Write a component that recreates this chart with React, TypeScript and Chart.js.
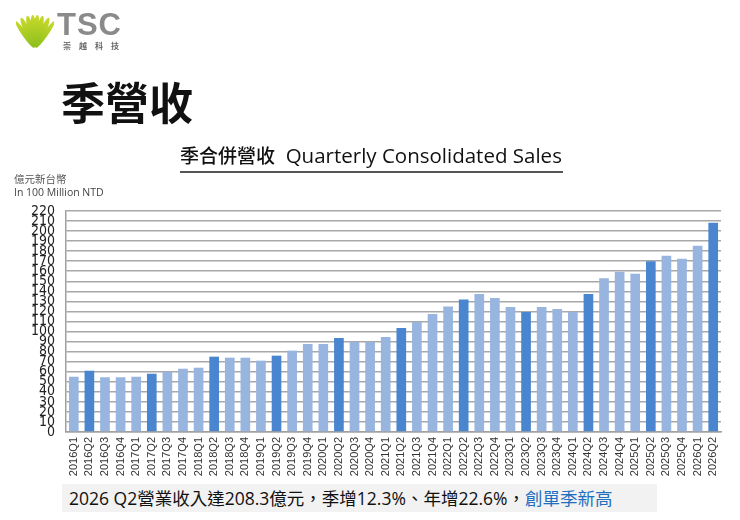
import React, { useEffect, useRef } from "react";
import { Chart, registerables } from "chart.js";

Chart.register(...registerables);

const categories: string[] = [
  "2016Q1", "2016Q2", "2016Q3", "2016Q4",
  "2017Q1", "2017Q2", "2017Q3", "2017Q4",
  "2018Q1", "2018Q2", "2018Q3", "2018Q4",
  "2019Q1", "2019Q2", "2019Q3", "2019Q4",
  "2020Q1", "2020Q2", "2020Q3", "2020Q4",
  "2021Q1", "2021Q2", "2021Q3", "2021Q4",
  "2022Q1", "2022Q2", "2022Q3", "2022Q4",
  "2023Q1", "2023Q2", "2023Q3", "2023Q4",
  "2024Q1", "2024Q2", "2024Q3", "2024Q4",
  "2025Q1", "2025Q2", "2025Q3", "2025Q4",
  "2026Q1", "2026Q2",
];

const sales: number[] = [
  55, 61, 54.5, 54.5,
  55, 58, 60, 63,
  64, 75, 74, 74,
  71, 76, 81, 87.5,
  87.5, 93.5, 89.5, 89.5,
  94.5, 103.5, 109.5, 117.5,
  125, 132, 137.5, 133.5,
  124.5, 119.5, 124.5, 122.5,
  119.5, 137.5, 153, 159.5,
  157.5, 169.9, 175.5, 172.5,
  185.5, 208.3,
];

const yMin = 0;
const yMax = 220;
const yStep = 10;

const LIGHT = "#97B5DE";
const DARK = "#4A85CF";

function Logo() {
  const petals = [-70, -48, -26, -8, 8, 26, 48, 70];
  return (
    <svg width="38" height="38" viewBox="0 0 40 40" style={{ position: "absolute", left: 16, top: 13 }}>
      <defs>
        <linearGradient id="lg" x1="0" y1="0" x2="0" y2="1">
          <stop offset="0" stopColor="#c9d92a" />
          <stop offset="1" stopColor="#8cbf1e" />
        </linearGradient>
      </defs>
      {petals.map((a, i) => (
        <ellipse
          key={i}
          cx="20"
          cy="19"
          rx={Math.abs(a) > 50 ? 2.6 : 3.3}
          ry="17"
          fill="url(#lg)"
          transform={`rotate(${a * 0.5} 20 38)`}
        />
      ))}
    </svg>
  );
}

export default function App() {
  const ref = useRef<HTMLCanvasElement | null>(null);

  useEffect(() => {
    if (!ref.current) return;
    const chart = new Chart(ref.current, {
      type: "bar",
      data: {
        labels: categories,
        datasets: [
          {
            data: sales,
            backgroundColor: categories.map((c) => (c.endsWith("Q2") ? DARK : LIGHT)),
            borderWidth: 0,
            barPercentage: 0.62,
            categoryPercentage: 1,
          },
        ],
      },
      options: {
        responsive: false,
        animation: false,
        devicePixelRatio: 1,
        layout: { padding: { left: 0, top: 211, right: 19, bottom: 43 } },
        plugins: { legend: { display: false }, tooltip: { enabled: false } },
        scales: {
          x: {
            grid: { display: false, drawTicks: false },
            border: { display: true, color: "#a0a0a0", width: 1.5 },
            ticks: {
              autoSkip: false,
              maxRotation: 90,
              minRotation: 90,
              padding: 5,
              color: "#333",
              font: { family: "'Liberation Sans', Arial, sans-serif", size: 11 },
            },
            afterFit: (s: any) => {
              s.height = 45;
            },
          },
          y: {
            min: yMin,
            max: yMax,
            grid: { color: "#a8a8a8", lineWidth: 1.6, drawTicks: false },
            border: { display: true, color: "#a0a0a0", width: 1.5 },
            ticks: {
              stepSize: yStep,
              autoSkip: false,
              padding: 11,
              color: "#222",
              font: { family: "'Liberation Sans Narrow', 'DejaVu Sans Condensed', Arial, sans-serif", size: 14 },
            },
            afterFit: (s: any) => {
              s.width = 66;
            },
          },
        },
      },
    });
    return () => chart.destroy();
  }, []);

  const cjk = "'Noto Sans CJK TC', 'Noto Sans CJK SC', sans-serif";

  return (
    <div lang="zh-TW" style={{ position: "absolute", left: 0, top: 0, width: 740, height: 520, background: "#fff", overflow: "hidden" }}>
      <canvas ref={ref} width={740} height={520} style={{ position: "absolute", left: 0, top: 0 }} />
      <Logo />
      <div
        style={{
          position: "absolute",
          left: 57,
          top: 7,
          fontFamily: "'Liberation Sans', Arial, sans-serif",
          fontWeight: 900,
          fontSize: 31,
          color: "#8a8a8a",
          letterSpacing: 1,
        }}
      >
        TSC
      </div>
      <div
        style={{
          position: "absolute",
          left: 63,
          top: 40,
          fontFamily: cjk,
          fontSize: 8,
          color: "#666",
          letterSpacing: 8,
          fontWeight: 700,
        }}
      >
        崇越科技
      </div>
      <div
        style={{
          position: "absolute",
          left: 61,
          top: 75,
          fontFamily: cjk,
          fontSize: 44,
          fontWeight: 700,
          color: "#111",
          lineHeight: 1.2,
        }}
      >
        季營收
      </div>
      <div
        style={{
          position: "absolute",
          left: 180,
          top: 141,
          width: 383,
          fontFamily: "'Open Sans', 'Noto Sans CJK TC', sans-serif",
          color: "#111",
          whiteSpace: "nowrap",
          lineHeight: "28px",
          borderBottom: "2px solid #555",
        }}
      >
        <span style={{ fontSize: 19, fontFamily: cjk, fontWeight: 500 }}>季合併營收</span>
        <span style={{ fontSize: 20.5, fontWeight: 500 }}>&nbsp; Quarterly Consolidated Sales</span>
      </div>
      <div
        style={{
          position: "absolute",
          left: 14,
          top: 172,
          fontFamily: cjk,
          fontSize: 10.5,
          color: "#555",
          lineHeight: "13px",
        }}
      >
        億元新台幣
      </div>
      <div
        style={{
          position: "absolute",
          left: 14,
          top: 185,
          fontFamily: "'Open Sans', sans-serif",
          fontSize: 10.5,
          color: "#444",
          lineHeight: "14px",
        }}
      >
        In 100 Million NTD
      </div>
      <div
        style={{
          position: "absolute",
          left: 62,
          top: 484,
          width: 595,
          height: 28,
          background: "#f2f2f2",
        }}
      />
      <div
        style={{
          position: "absolute",
          left: 69,
          top: 484,
          height: 28,
          lineHeight: "28px",
          fontFamily: "'Open Sans', 'Noto Sans CJK TC', sans-serif",
          fontSize: 17.5,
          color: "#111",
          whiteSpace: "nowrap",
        }}
      >
        2026 Q2營業收入達208.3億元，季增12.3%、年增22.6%，
        <span style={{ color: "#1f6fc1" }}>創單季新高</span>
      </div>
    </div>
  );
}
